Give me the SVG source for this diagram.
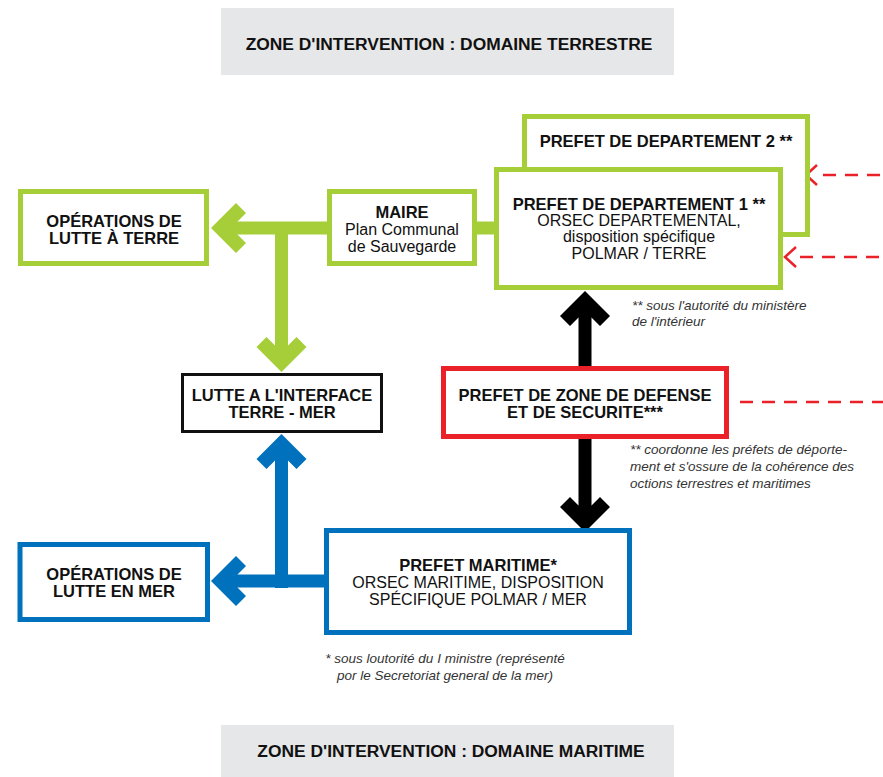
<svg xmlns="http://www.w3.org/2000/svg" xmlns:xlink="http://www.w3.org/1999/xlink" width="883" height="777" viewBox="0 0 883 777">
<style>
.b{font-family:"Liberation Sans",Arial,sans-serif;font-weight:bold;font-size:16.5px;fill:#111;text-anchor:middle}
.r{font-family:"Liberation Sans",Arial,sans-serif;font-size:16px;fill:#111;text-anchor:middle}
.ban{font-family:"Liberation Sans",Arial,sans-serif;font-weight:bold;font-size:17.4px;fill:#111;text-anchor:middle}
.fn{font-family:"Liberation Sans",Arial,sans-serif;font-style:italic;font-size:13.5px;fill:#333}
.gbox{fill:#fff;stroke:#a6ce39;stroke-width:5}
.bbox{fill:#fff;stroke:#0071bc;stroke-width:5}
.rbox{fill:#fff;stroke:#ea2129;stroke-width:5}
.kbox{fill:#fff;stroke:#111;stroke-width:3}
.dash{stroke:#ea2129;stroke-width:2.5;stroke-dasharray:13 9;fill:none}
.chev{stroke:#ea2129;stroke-width:2.5;fill:none}
</style>
<defs>
<polygon id="head" points="0,0 -25,-25 -15,-35 -6.5,-26.5 6.5,-26.5 15,-35 25,-25"/>
</defs>

<g id="banner-terrestre">
<rect x="221" y="8" width="453" height="67" fill="#e6e7e8"/>
<text class="ban" x="449" y="50">ZONE D'INTERVENTION : DOMAINE TERRESTRE</text>
</g>
<g id="banner-maritime">
<rect x="221" y="725" width="453" height="52" fill="#e6e7e8"/>
<text class="ban" x="451" y="757">ZONE D'INTERVENTION : DOMAINE MARITIME</text>
</g>

<g id="connectors">
<!-- green -->
<rect x="225" y="221.5" width="103" height="13" fill="#a6ce39"/>
<use xlink:href="#head" transform="translate(211,228) rotate(90)" fill="#a6ce39"/>
<rect x="275" y="222" width="13" height="126" fill="#a6ce39"/>
<use xlink:href="#head" transform="translate(281.5,372)" fill="#a6ce39"/>
<rect x="474" y="221.5" width="24" height="13" fill="#a6ce39"/>
<!-- blue -->
<rect x="275" y="458" width="13" height="130" fill="#0071bc"/>
<use xlink:href="#head" transform="translate(281.5,434) rotate(180)" fill="#0071bc"/>
<rect x="225" y="574.5" width="103" height="13" fill="#0071bc"/>
<use xlink:href="#head" transform="translate(211,581) rotate(90)" fill="#0071bc"/>
<!-- black -->
<rect x="578.5" y="314" width="13" height="54" fill="#000"/>
<use xlink:href="#head" transform="translate(585,291) rotate(180)" fill="#000"/>
<rect x="578.5" y="437" width="13" height="73" fill="#000"/>
<use xlink:href="#head" transform="translate(585,532)" fill="#000"/>
<!-- red dashed -->
<polyline class="chev" points="817,165 806,175 817,185"/>
<line class="dash" x1="823" y1="175" x2="883" y2="175"/>
<polyline class="chev" points="796,247 785,257 796,267"/>
<line class="dash" x1="800" y1="257" x2="883" y2="257"/>
<line class="dash" x1="740" y1="402" x2="883" y2="402"/>
</g>

<g id="operations-terre">
<rect class="gbox" x="20.5" y="191.5" width="186" height="72"/>
<text class="b" x="114" y="227">OPÉRATIONS DE</text>
<text class="b" x="114" y="244">LUTTE À TERRE</text>
</g>

<g id="maire">
<rect class="gbox" x="329.5" y="191.5" width="145" height="72"/>
<text class="b" x="402" y="218">MAIRE</text>
<text class="r" x="402" y="235">Plan Communal</text>
<text class="r" x="402" y="252">de Sauvegarde</text>
</g>

<g id="prefet-dep-2">
<rect class="gbox" x="524.5" y="116.5" width="283" height="118"/>
<text class="b" x="666" y="147">PREFET DE DEPARTEMENT 2 **</text>
</g>

<g id="prefet-dep-1">
<rect class="gbox" x="496.5" y="169.5" width="284" height="118"/>
<text class="b" x="639" y="210">PREFET DE DEPARTEMENT 1 **</text>
<text class="r" x="639" y="226">ORSEC DEPARTEMENTAL,</text>
<text class="r" x="639" y="242">disposition spécifique</text>
<text class="r" x="639" y="259">POLMAR / TERRE</text>
</g>

<g id="note-interieur">
<text class="fn" x="632" y="310">** sous l'autorité du ministère</text>
<text class="fn" x="632" y="326">de l'intérieur</text>
</g>

<g id="lutte-interface">
<rect class="kbox" x="182.5" y="374.5" width="199" height="57"/>
<text class="b" x="282" y="401">LUTTE A L'INTERFACE</text>
<text class="b" x="282" y="418">TERRE - MER</text>
</g>

<g id="prefet-zone">
<rect class="rbox" x="443.5" y="368.5" width="283" height="68"/>
<text class="b" x="585" y="401">PREFET DE ZONE DE DEFENSE</text>
<text class="b" x="585" y="418">ET DE SECURITE***</text>
</g>

<g id="note-zone">
<text class="fn" x="630" y="454">** coordonne les préfets de déporte-</text>
<text class="fn" x="630" y="471">ment et s'ossure de la cohérence des</text>
<text class="fn" x="630" y="488">octions terrestres et maritimes</text>
</g>

<g id="operations-mer">
<rect class="bbox" x="20" y="544.5" width="187.5" height="75"/>
<text class="b" x="114" y="580">OPÉRATIONS DE</text>
<text class="b" x="114" y="597">LUTTE EN MER</text>
</g>

<g id="prefet-maritime">
<rect class="bbox" x="326.5" y="530.5" width="303" height="102"/>
<text class="b" x="478" y="571">PREFET MARITIME*</text>
<text class="r" x="478" y="588">ORSEC MARITIME, DISPOSITION</text>
<text class="r" x="478" y="605">SPÉCIFIQUE POLMAR / MER</text>
</g>

<g id="note-maritime">
<text class="fn" x="445" y="663" text-anchor="middle">* sous loutorité du I ministre (représenté</text>
<text class="fn" x="445" y="680" text-anchor="middle">por le Secretoriat general de la mer)</text>
</g>
</svg>
